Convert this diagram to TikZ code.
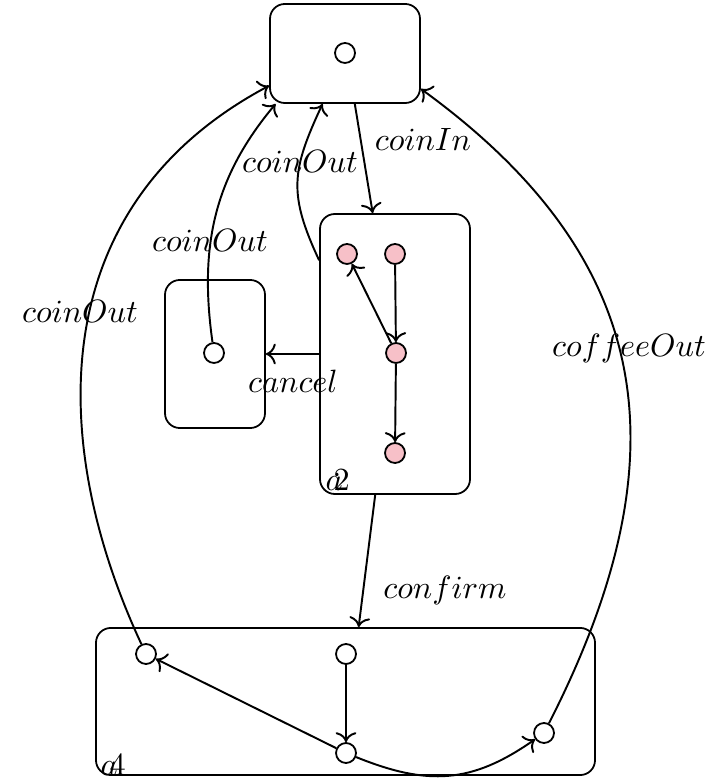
\documentclass[tikz,border=0pt]{standalone}
\usetikzlibrary{arrows.meta}
\begin{document}
\definecolor{statepink}{RGB}{247,192,200}
\begin{tikzpicture}[x=0.31pt,y=0.31pt,
  statebox/.style={draw, rounded corners=4.6pt, line width=0.55pt, inner sep=0pt},
  st/.style={circle, draw, minimum size=6.2pt, inner sep=0pt, line width=0.55pt},
  pinkst/.style={st, fill=statepink},
  tr/.style={-{To[scale=1.05]}, line width=0.6pt},
  lbl/.style={inner sep=0pt},
  tag/.style={anchor=base west, inner sep=0pt}]
\useasboundingbox (0,0) rectangle (712,784);

% top state
\node[statebox, minimum width=46.5pt, minimum height=30.7pt] (s0) at (345,730.5) {};
\node[st] (s0i) at (345,731) {};

% composite state a2
\node[statebox, minimum width=46.5pt, minimum height=86.8pt] (a2) at (395,430) {};
\node[pinkst] (p1) at (347,530) {};
\node[pinkst] (p2) at (395,530) {};
\node[pinkst] (p3) at (396,431) {};
\node[pinkst] (p4) at (395,331) {};
\node[tag] (a2a) at (325,293) {$a$};
\node[tag] (a2n) at (333,293) {$2$};

% cancel state
\node[statebox, minimum width=31pt, minimum height=45.9pt] (cb) at (215,430) {};
\node[st] (cbi) at (214,431) {};

% composite state a4
\node[statebox, minimum width=154.7pt, minimum height=45.6pt] (a4) at (345.5,82.5) {};
\node[st] (q1) at (146,130) {};
\node[st] (q2) at (346,130) {};
\node[st] (q3) at (346,31) {};
\node[st] (q4) at (544,51) {};
\node[tag] (a4a) at (100,8) {$a$};
\node[tag] (a4n) at (109,8) {$4$};

% transitions
\draw[tr] (s0.-79) -- (a2.99);
\draw[tr] (a2.129) to[out=115,in=-115,looseness=1.2] (s0.-114.5);
\draw[tr] (cbi) to[out=98,in=230] (s0.216.5);
\draw[tr] (q1) to[out=115,in=208,out distance=68pt,in distance=80pt] (s0.203);
\draw[tr] (q4) to[out=63,in=-36,out distance=93pt,in distance=90pt] (s0.-25);
\draw[tr] (a2.west) -- (cb.east);
\draw[tr] (a2.-98.5) -- (a4.80.3);

\draw[tr] (p2) -- (p3);
\draw[tr] (p3) -- (p1);
\draw[tr] (p3) -- (p4);

\draw[tr] (q2) -- (q3);
\draw[tr] (q3) -- (q1);
\draw[tr] (q3) to[out=-22,in=215,looseness=1.1] (q4);

% labels
\node[lbl] (l1) at (423,645) {$coinIn$};
\node[lbl] (l2) at (300,623) {$coinOut$};
\node[lbl] (l3) at (210,544) {$coinOut$};
\node[lbl] (l4) at (80,473) {$coinOut$};
\node[lbl] (l5) at (629,436) {$coffeeOut$};
\node[lbl] (l6) at (293,403) {$cancel$};
\node[lbl] (l7) at (445,194) {$confirm$};
\end{tikzpicture}
\end{document}
